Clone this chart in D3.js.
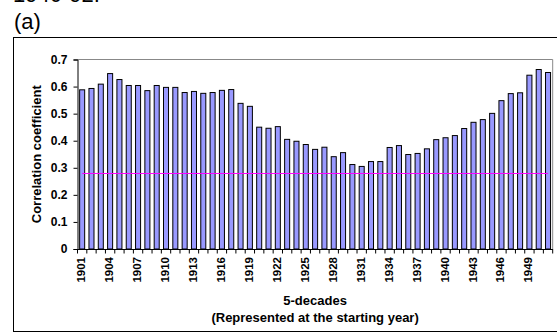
<!DOCTYPE html>
<html>
<head>
<meta charset="utf-8">
<script src="https://cdn.jsdelivr.net/npm/d3@7"></script>
<style>
  html, body { margin: 0; padding: 0; background: #fff; }
  svg { display: block; font-family: Arial, "Liberation Sans", sans-serif; }
</style>
</head>
<body>
<svg id="chart" width="557" height="333"></svg>
<script>
// Starting years of each 5-decade window
const years = d3.range(1901, 1952);
// Correlation coefficient for each window
const correlation = [
  0.588, 0.593, 0.609, 0.648, 0.626, 0.604, 0.604, 0.585, 0.604, 0.597,
  0.597, 0.578, 0.582, 0.575, 0.578, 0.586, 0.589, 0.538, 0.527, 0.450,
  0.446, 0.452, 0.405, 0.398, 0.386, 0.368, 0.376, 0.341, 0.356, 0.312,
  0.305, 0.323, 0.323, 0.375, 0.382, 0.349, 0.353, 0.370, 0.404, 0.411,
  0.419, 0.445, 0.468, 0.478, 0.501, 0.548, 0.574, 0.577, 0.642, 0.663,
  0.652
];
// Significance threshold drawn across all windows
const threshold = 0.279;
const yTicks = [0, 0.1, 0.2, 0.3, 0.4, 0.5, 0.6, 0.7];
const xLabelYears = d3.range(1901, 1952, 3);

const svg = d3.select("#chart");
const plot = { left: 77.5, right: 552.7, top: 59.5, bottom: 249 };

// Panel label and running text above the panel
svg.append("text").attr("x", 13).attr("y", 2)
  .attr("font-size", 22).attr("fill", "#000").text("1940-92.");
svg.append("text").attr("x", 14).attr("y", 29)
  .attr("font-size", 22).attr("fill", "#000").text("(a)");

// Outer chart frame
svg.append("rect").attr("x", 13.5).attr("y", 37.5)
  .attr("width", 560).attr("height", 294)
  .attr("fill", "none").attr("stroke", "#000").attr("stroke-width", 1);

const x = d3.scaleBand().domain(years).range([plot.left, plot.right])
  .paddingInner(0.46).paddingOuter(0.23);
const xc = d3.scaleBand().domain(years).range([plot.left, plot.right]);
const y = d3.scaleLinear().domain([0, 0.7]).range([plot.bottom, plot.top]);

// Plot-area border (top and right)
svg.append("path")
  .attr("d", `M${plot.left},${y(0.7)}H${plot.right}V${plot.bottom}`)
  .attr("fill", "none").attr("stroke", "#888").attr("stroke-width", 1);

// Bars
svg.append("g").selectAll("rect").data(correlation).join("rect")
  .attr("x", (d, i) => x(years[i]))
  .attr("y", d => y(d))
  .attr("width", x.bandwidth())
  .attr("height", d => y(0) - y(d))
  .attr("fill", "#9999ff").attr("stroke", "#000").attr("stroke-width", 1);

// Threshold line through the category centres
svg.append("line")
  .attr("x1", xc(years[0]) + xc.bandwidth() / 2)
  .attr("x2", xc(years[years.length - 1]) + xc.bandwidth() / 2)
  .attr("y1", y(threshold)).attr("y2", y(threshold))
  .attr("stroke", "#ff00ff").attr("stroke-width", 1);

// Y axis
const yAxis = svg.append("g").attr("transform", `translate(${plot.left},0)`)
  .call(d3.axisLeft(y).tickValues(yTicks).tickSize(4).tickPadding(6)
    .tickFormat(d => d === 0 ? "0" : d3.format(".1f")(d)));
yAxis.select(".domain").attr("stroke", "#000");
yAxis.selectAll("text").attr("font-size", 12).attr("font-weight", "bold")
  .attr("fill", "#000").attr("font-family", "Arial, 'Liberation Sans', sans-serif");

// X axis: ticks at category boundaries
const boundaries = years.map(yr => xc(yr)).concat([plot.right]);
const xg = svg.append("g");
xg.append("line").attr("x1", plot.left).attr("x2", plot.right)
  .attr("y1", plot.bottom + 0.5).attr("y2", plot.bottom + 0.5).attr("stroke", "#000");
xg.selectAll("line.tick").data(boundaries).join("line").attr("class", "tick")
  .attr("x1", d => d).attr("x2", d => d)
  .attr("y1", plot.bottom).attr("y2", plot.bottom + 4.5).attr("stroke", "#000");

xg.selectAll("text").data(xLabelYears).join("text")
  .attr("transform", d => `translate(${xc(d) + xc.bandwidth() / 2 - 1},${plot.bottom + 8}) rotate(-90)`)
  .attr("text-anchor", "end").attr("dy", "0.35em")
  .attr("font-size", 11.5).attr("font-weight", "bold").attr("fill", "#000")
  .text(d => d);

// Axis titles
svg.append("text")
  .attr("transform", `translate(36,${(plot.top + plot.bottom) / 2}) rotate(-90)`)
  .attr("text-anchor", "middle").attr("dy", "0.35em")
  .attr("font-size", 13).attr("font-weight", "bold").attr("fill", "#000")
  .text("Correlation coefficient");
svg.append("text").attr("x", (plot.left + plot.right) / 2).attr("y", 305)
  .attr("text-anchor", "middle")
  .attr("font-size", 13).attr("font-weight", "bold").attr("fill", "#000")
  .text("5-decades");
svg.append("text").attr("x", (plot.left + plot.right) / 2).attr("y", 322)
  .attr("text-anchor", "middle")
  .attr("font-size", 13).attr("font-weight", "bold").attr("fill", "#000")
  .text("(Represented at the starting year)");
</script>
</body>
</html>
